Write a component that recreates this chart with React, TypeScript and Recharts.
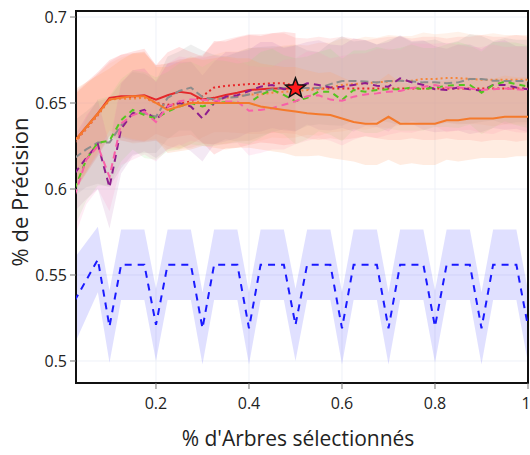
import { ComposedChart, Line, Area, Scatter, XAxis, YAxis, CartesianGrid, ReferenceArea } from "recharts";

// fraction of trees kept (1/40 steps)
const fractions = [
  0.025, 0.05, 0.075, 0.1, 0.125, 0.15, 0.175, 0.2, 0.225, 0.25,
  0.275, 0.3, 0.325, 0.35, 0.375, 0.4, 0.425, 0.45, 0.475, 0.5,
  0.525, 0.55, 0.575, 0.6, 0.625, 0.65, 0.675, 0.7, 0.725, 0.75,
  0.775, 0.8, 0.825, 0.85, 0.875, 0.9, 0.925, 0.95, 0.975, 1,
];

const xTicks = [0.2, 0.4, 0.6, 0.8, 1];
const yTicks = [0.5, 0.55, 0.6, 0.65, 0.7];

const orangeSolid = [
  0.628, 0.636, 0.644, 0.652, 0.653, 0.654, 0.654, 0.65, 0.646, 0.648,
  0.65, 0.65, 0.65, 0.65, 0.65, 0.65, 0.648, 0.647, 0.646, 0.645,
  0.644, 0.6435, 0.643, 0.641, 0.639, 0.638, 0.638, 0.642, 0.638, 0.638,
  0.638, 0.638, 0.64, 0.64, 0.641, 0.641, 0.641, 0.642, 0.642, 0.642,
];
const orangeSolidStd = [
  0.03, 0.026, 0.022, 0.018, 0.022, 0.025, 0.026, 0.021, 0.025, 0.026,
  0.027, 0.025, 0.026, 0.027, 0.026, 0.026, 0.025, 0.025, 0.025, 0.026,
  0.025, 0.024, 0.025, 0.024, 0.023, 0.024, 0.024, 0.025, 0.024, 0.023,
  0.024, 0.024, 0.023, 0.024, 0.024, 0.023, 0.023, 0.024, 0.023, 0.023,
];

// stops at the best point (0.5)
const redSolid = [
  0.628, 0.636, 0.644, 0.653, 0.654, 0.654, 0.6545, 0.652, 0.6545, 0.6565,
  0.6556, 0.652, 0.653, 0.6547, 0.656, 0.6576, 0.658, 0.6585, 0.6585, 0.6585,
];
const redSolidStd = [
  0.028, 0.026, 0.024, 0.022, 0.024, 0.026, 0.027, 0.02, 0.025, 0.026,
  0.024, 0.025, 0.033, 0.031, 0.032, 0.032, 0.031, 0.032, 0.033, 0.032,
];

const redDotted = [
  0.627, 0.635, 0.643, 0.652, 0.653, 0.653, 0.6535, 0.65, 0.649, 0.6495,
  0.651, 0.654, 0.659, 0.66, 0.6605, 0.661, 0.661, 0.6615, 0.6615, 0.66,
  0.6585, 0.6585, 0.6585, 0.6585, 0.6585, 0.6585, 0.6585, 0.6585, 0.6585, 0.6585,
  0.6585, 0.6585, 0.6585, 0.6585, 0.6585, 0.6585, 0.6585, 0.6585, 0.6585, 0.6585,
];
const redDottedStd = [
  0.028, 0.026, 0.024, 0.022, 0.025, 0.026, 0.026, 0.022, 0.024, 0.026,
  0.025, 0.024, 0.026, 0.027, 0.028, 0.029, 0.029, 0.029, 0.029, 0.028,
  0.029, 0.03, 0.029, 0.03, 0.029, 0.028, 0.029, 0.03, 0.03, 0.029,
  0.03, 0.03, 0.029, 0.03, 0.03, 0.031, 0.03, 0.03, 0.031, 0.03,
];

const orangeDotted = [
  0.627, 0.635, 0.643, 0.652, 0.6525, 0.6525, 0.653, 0.65, 0.648, 0.649,
  0.65, 0.651, 0.652, 0.653, 0.654, 0.655, 0.655, 0.656, 0.6565, 0.657,
  0.6575, 0.658, 0.659, 0.6605, 0.661, 0.6615, 0.662, 0.6625, 0.663, 0.663,
  0.664, 0.664, 0.6645, 0.6645, 0.664, 0.6635, 0.6635, 0.6635, 0.6635, 0.6635,
];
const orangeDottedStd = [
  0.028, 0.026, 0.024, 0.021, 0.024, 0.026, 0.026, 0.022, 0.025, 0.026,
  0.026, 0.025, 0.026, 0.027, 0.026, 0.027, 0.027, 0.026, 0.027, 0.027,
  0.026, 0.027, 0.026, 0.027, 0.026, 0.027, 0.026, 0.027, 0.026, 0.026,
  0.027, 0.026, 0.026, 0.027, 0.026, 0.026, 0.027, 0.026, 0.026, 0.026,
];

const grayDashed = [
  0.618, 0.623, 0.627, 0.627, 0.637, 0.644, 0.644, 0.642, 0.653, 0.657,
  0.659, 0.6535, 0.652, 0.653, 0.6535, 0.655, 0.6565, 0.658, 0.6587, 0.6587,
  0.6587, 0.6587, 0.661, 0.6628, 0.6628, 0.6625, 0.662, 0.6628, 0.663, 0.6625,
  0.662, 0.662, 0.6615, 0.662, 0.664, 0.664, 0.663, 0.6628, 0.6628, 0.6628,
];
const grayDashedStd = [
  0.022, 0.022, 0.024, 0.026, 0.025, 0.024, 0.023, 0.021, 0.024, 0.023,
  0.025, 0.027, 0.026, 0.024, 0.026, 0.027, 0.026, 0.025, 0.024, 0.025,
  0.022, 0.021, 0.024, 0.026, 0.023, 0.024, 0.022, 0.024, 0.026, 0.023,
  0.024, 0.025, 0.023, 0.024, 0.026, 0.025, 0.023, 0.025, 0.024, 0.024,
];

const purpleDashed = [
  0.609, 0.618, 0.626, 0.601, 0.635, 0.644, 0.646, 0.64, 0.648, 0.65,
  0.648, 0.641, 0.65, 0.6537, 0.6545, 0.657, 0.6595, 0.6605, 0.658, 0.6585,
  0.6615, 0.6605, 0.659, 0.6595, 0.6605, 0.6616, 0.66, 0.6595, 0.6644, 0.662,
  0.6605, 0.658, 0.6576, 0.659, 0.658, 0.6572, 0.6605, 0.6605, 0.659, 0.658,
];
const purpleDashedStd = [
  0.022, 0.024, 0.026, 0.024, 0.026, 0.025, 0.024, 0.022, 0.025, 0.024,
  0.026, 0.025, 0.024, 0.026, 0.025, 0.024, 0.026, 0.025, 0.024, 0.025,
  0.024, 0.026, 0.025, 0.024, 0.027, 0.025, 0.024, 0.026, 0.025, 0.024,
  0.026, 0.025, 0.024, 0.025, 0.026, 0.024, 0.025, 0.026, 0.024, 0.025,
];

const greenDashed = [
  0.6, 0.617, 0.627, 0.628, 0.64, 0.646, 0.643, 0.641, 0.645, 0.648,
  0.65, 0.648, 0.65, 0.6505, 0.65, 0.65, 0.6547, 0.6576, 0.6547, 0.651,
  0.653, 0.6566, 0.6566, 0.6517, 0.6576, 0.6566, 0.6575, 0.658, 0.658, 0.659,
  0.658, 0.659, 0.66, 0.6605, 0.6605, 0.656, 0.6605, 0.6624, 0.661, 0.6595,
];
const greenDashedStd = [
  0.022, 0.024, 0.025, 0.026, 0.024, 0.023, 0.025, 0.024, 0.023, 0.025,
  0.024, 0.023, 0.025, 0.024, 0.023, 0.024, 0.025, 0.024, 0.023, 0.025,
  0.024, 0.023, 0.025, 0.024, 0.023, 0.024, 0.025, 0.023, 0.024, 0.025,
  0.024, 0.023, 0.024, 0.025, 0.023, 0.024, 0.025, 0.023, 0.024, 0.024,
];

const pinkDashed = [
  0.596, 0.617, 0.625, 0.607, 0.638, 0.643, 0.645, 0.639, 0.648, 0.651,
  0.652, 0.6517, 0.6515, 0.651, 0.6508, 0.6455, 0.646, 0.647, 0.649, 0.651,
  0.654, 0.6545, 0.652, 0.6513, 0.6537, 0.655, 0.6556, 0.6566, 0.657, 0.6587,
  0.6595, 0.6605, 0.659, 0.659, 0.6585, 0.6576, 0.658, 0.6585, 0.658, 0.6576,
];
const pinkDashedStd = [
  0.024, 0.026, 0.025, 0.02, 0.024, 0.026, 0.025, 0.023, 0.025, 0.026,
  0.024, 0.025, 0.026, 0.025, 0.024, 0.026, 0.025, 0.024, 0.026, 0.025,
  0.026, 0.025, 0.024, 0.026, 0.025, 0.024, 0.026, 0.025, 0.024, 0.026,
  0.025, 0.024, 0.026, 0.025, 0.024, 0.025, 0.026, 0.024, 0.025, 0.025,
];

const blueDashed = [
  0.535, 0.547, 0.559, 0.52, 0.556, 0.556, 0.556, 0.521, 0.556, 0.556,
  0.556, 0.519, 0.556, 0.556, 0.556, 0.519, 0.556, 0.556, 0.556, 0.521,
  0.556, 0.556, 0.556, 0.519, 0.556, 0.556, 0.556, 0.519, 0.556, 0.556,
  0.556, 0.52, 0.556, 0.556, 0.556, 0.519, 0.556, 0.556, 0.556, 0.52,
];
const blueDashedStd = [
  0.025, 0.022, 0.019, 0.021, 0.0205, 0.0205, 0.0205, 0.021, 0.0205, 0.0205,
  0.0205, 0.021, 0.0205, 0.0205, 0.0205, 0.021, 0.0205, 0.0205, 0.0205, 0.021,
  0.0205, 0.0205, 0.0205, 0.021, 0.0205, 0.0205, 0.0205, 0.021, 0.0205, 0.0205,
  0.0205, 0.021, 0.0205, 0.0205, 0.0205, 0.021, 0.0205, 0.0205, 0.0205, 0.021,
];

const bestPoint = [{ x: 0.5, y: 0.6585 }];

type Series = {
  key: string;
  values: number[];
  spread: number[];
  stroke: string;
  dash?: string;
  band: string;
  bandOpacity: number;
};

// drawing order: orange solid last so it covers the shared start
const series: Series[] = [
  { key: "redSolid", values: redSolid, spread: redSolidStd, stroke: "#e4282b", band: "#ff6a6a", bandOpacity: 0.19 },
  { key: "redDotted", values: redDotted, spread: redDottedStd, stroke: "#e8262a", dash: "2 3", band: "#ff8080", bandOpacity: 0.17 },
  { key: "orangeDotted", values: orangeDotted, spread: orangeDottedStd, stroke: "#f5863a", dash: "2 3", band: "#ffb080", bandOpacity: 0.17 },
  { key: "grayDashed", values: grayDashed, spread: grayDashedStd, stroke: "#8c8c8c", dash: "8 4", band: "#969696", bandOpacity: 0.15 },
  { key: "purpleDashed", values: purpleDashed, spread: purpleDashedStd, stroke: "#8e1c8e", dash: "7 5", band: "#b060b0", bandOpacity: 0.14 },
  { key: "greenDashed", values: greenDashed, spread: greenDashedStd, stroke: "#55c51f", dash: "6 5", band: "#88e070", bandOpacity: 0.14 },
  { key: "pinkDashed", values: pinkDashed, spread: pinkDashedStd, stroke: "#f860a8", dash: "7 5", band: "#ff8cc0", bandOpacity: 0.16 },
  { key: "orangeSolid", values: orangeSolid, spread: orangeSolidStd, stroke: "#f47a2c", band: "#ffa06a", bandOpacity: 0.2 },
  { key: "blueDashed", values: blueDashed, spread: blueDashedStd, stroke: "#1a1aff", dash: "7 6", band: "#0000ff", bandOpacity: 0.12 },
];

const rows = fractions.map((x, i) => {
  const row: Record<string, unknown> = { x };
  series.forEach((s) => {
    const v = s.values[i];
    if (v === undefined) return;
    row[s.key] = v;
    row[s.key + "Band"] = [v - s.spread[i], v + s.spread[i]];
  });
  return row;
});

const font = "'Open Sans', 'Noto Sans', sans-serif";

function Star(props: any) {
  const { cx, cy } = props;
  const pts: string[] = [];
  for (let i = 0; i < 10; i++) {
    const r = i % 2 === 0 ? 10.5 : 4.4;
    const a = -Math.PI / 2 + (i * Math.PI) / 5;
    pts.push(`${cx + r * Math.cos(a)},${cy + r * Math.sin(a)}`);
  }
  return <polygon points={pts.join(" ")} fill="#ff1a1a" stroke="#111" strokeWidth={1.5} />;
}

export default function App() {
  return (
    <div style={{ position: "absolute", left: 0, top: 0, width: 530, height: 455, background: "#fff" }}>
      <ComposedChart width={530} height={455} data={rows} margin={{ top: 11, right: 2, bottom: 0, left: 0 }}>
        <CartesianGrid stroke="#eef1f8" strokeWidth={1} />
        <XAxis
          type="number"
          dataKey="x"
          domain={[0.028, 1]}
          ticks={xTicks}
          allowDataOverflow
          height={72}
          axisLine={false}
          tickSize={6}
          tickMargin={9}
          tickLine={{ stroke: "#777" }}
          tick={{ fontSize: 16, fill: "#222", fontFamily: font }}
          label={{
            content: () => (
              <text x={298} y={446} textAnchor="middle" fontSize={21} fill="#222" fontFamily={font}>
                % d'Arbres sélectionnés
              </text>
            ),
          }}
        />
        <YAxis
          type="number"
          domain={[0.4872, 0.7035]}
          ticks={yTicks}
          allowDataOverflow
          width={76}
          axisLine={false}
          tickSize={6}
          tickMargin={3}
          tickLine={{ stroke: "#777" }}
          tick={{ fontSize: 16, fill: "#222", fontFamily: font }}
          label={{
            content: () => (
              <text
                x={28}
                y={192}
                transform="rotate(-90 28 192)"
                textAnchor="middle"
                fontSize={22}
                fill="#222"
                fontFamily={font}
              >
                % de Précision
              </text>
            ),
          }}
        />
        {series.map((s) => (
          <Area
            key={s.key + "Band"}
            type="linear"
            dataKey={s.key + "Band"}
            stroke="none"
            fill={s.band}
            fillOpacity={s.bandOpacity}
            isAnimationActive={false}
            activeDot={false}
          />
        ))}
        {series.map((s) => (
          <Line
            key={s.key}
            type="linear"
            dataKey={s.key}
            stroke={s.stroke}
            strokeWidth={2}
            strokeDasharray={s.dash}
            dot={false}
            activeDot={false}
            isAnimationActive={false}
          />
        ))}
        <Scatter data={bestPoint} dataKey="y" shape={<Star />} isAnimationActive={false} />
        <ReferenceArea x1={0.028} x2={1} y1={0.4872} y2={0.7035} fill="none" stroke="#111" strokeWidth={2} ifOverflow="visible" />
      </ComposedChart>
    </div>
  );
}
